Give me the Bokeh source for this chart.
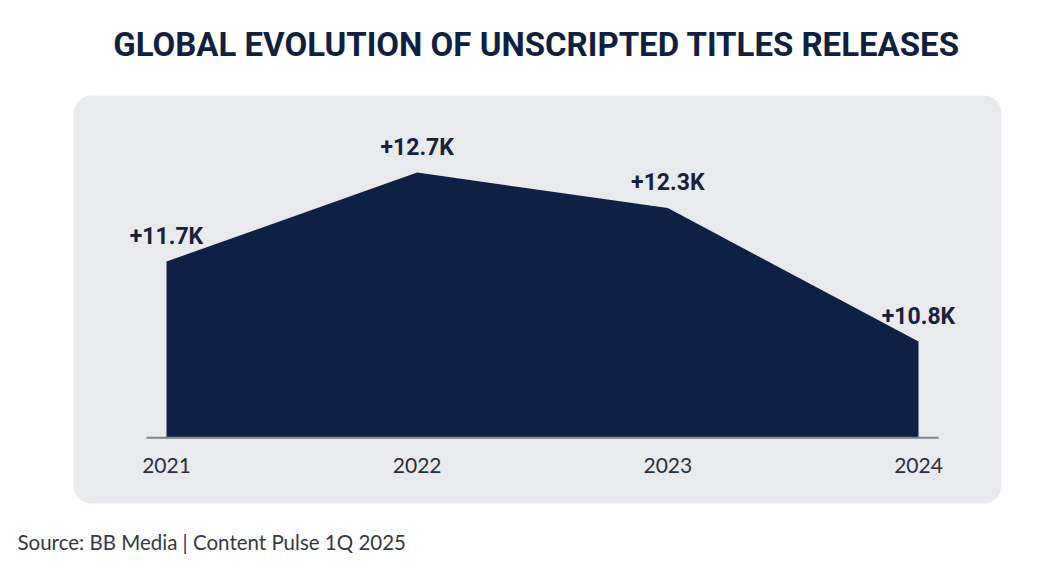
from bokeh.plotting import figure
from bokeh.models import Range1d, BoxAnnotation, Label, ColumnDataSource
from bokeh.core.properties import value
from bokeh.embed import file_html
from bokeh.resources import INLINE

# ---- data ----
years = [2021, 2022, 2023, 2024]
releases_k = [11.7, 12.7, 12.3, 10.8]
value_labels = ["+11.7K", "+12.7K", "+12.3K", "+10.8K"]
year_labels = ["2021", "2022", "2023", "2024"]
title_text = "GLOBAL EVOLUTION OF UNSCRIPTED TITLES RELEASES"
source_text = "Source: BB Media | Content Pulse 1Q 2025"

W, H = 1043, 565
X0, X1 = 2020.3378, 2024.4987
Y0, Y1 = 8.2843, 14.6326
BASE = 9.72

def xd(px):
    return X0 + px * (X1 - X0) / W

def yd(py):
    return Y1 - py * (Y1 - Y0) / H

NAVY = "#0e2144"
TXT = "#17213d"

p = figure(width=W, height=H, x_range=Range1d(X0, X1), y_range=Range1d(Y0, Y1),
           output_backend="svg", toolbar_location=None, min_border=0,
           background_fill_color="white", border_fill_color="white",
           outline_line_color=None)
p.axis.visible = False
p.xgrid.visible = False
p.ygrid.visible = False

# panel
panel = BoxAnnotation(left=xd(73), right=xd(1001), top=yd(95), bottom=yd(503),
                      fill_color="#e9eaee", fill_alpha=1, line_color=None,
                      border_radius=18, level="underlay")
p.add_layout(panel)

src = ColumnDataSource(dict(x=years, y=releases_k, lab=value_labels,
                            yl=year_labels, base=[BASE] * len(years)))

p.varea(x="x", y1="base", y2="y", source=src, fill_color=NAVY)
p.segment(x0=[years[0] - 0.08], x1=[years[-1] + 0.08], y0=[BASE], y1=[BASE],
          line_color="#7f828a", line_width=2)

p.text(x="x", y="y", text="lab", source=src, text_align="center",
       text_baseline="bottom", y_offset=-12, text_font=value("Roboto"),
       text_font_style="bold", text_font_size="23px", text_color=TXT)

p.text(x="x", y="base", text="yl", source=src, text_align="center",
       text_baseline="middle", y_offset=28, text_font=value("Lato"),
       text_font_size="21px", text_color="#2b2f3a")

p.add_layout(Label(x=xd(536), y=yd(44), text=title_text, text_align="center",
                   text_baseline="middle", text_font="Roboto",
                   text_font_style="bold", text_font_size="33px",
                   text_color="#10213f"))

p.add_layout(Label(x=xd(17), y=yd(541), text=source_text, text_align="left",
                   text_baseline="middle", text_font="Lato",
                   text_font_size="20.5px", text_color="#333a47"))

open("out.html", "w").write(file_html(p, INLINE))
